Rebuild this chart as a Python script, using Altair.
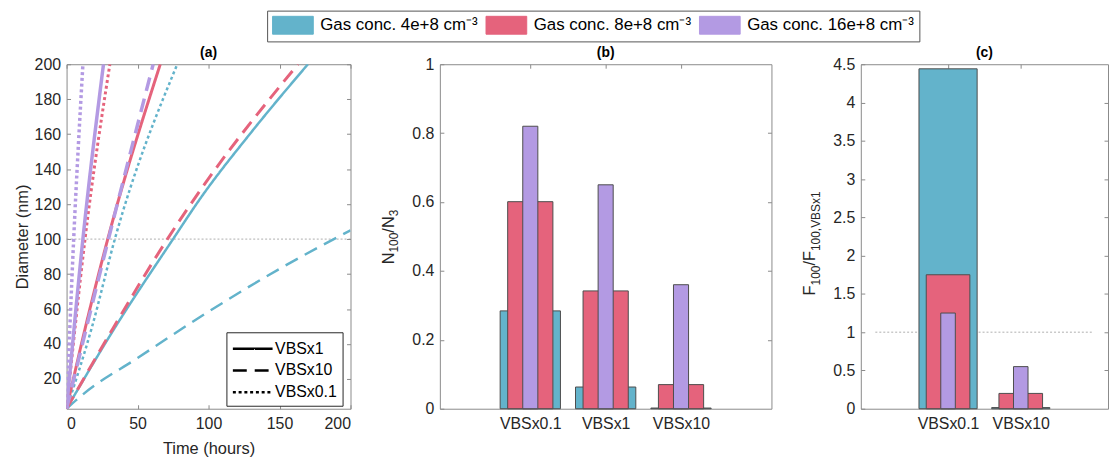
import altair as alt
import pandas as pd

FONT = "Liberation Sans"
TXT = "#262626"

# ---------------- shared categories / styles ----------------
conc_labels = ["Gas conc. 4e+8 cm⁻³", "Gas conc. 8e+8 cm⁻³", "Gas conc. 16e+8 cm⁻³"]
conc_colors = ["#63B3CB", "#E5637C", "#B39AE3"]
line_widths = [2.5, 3.5, 2.0]
vbs_labels = ["VBSx1", "VBSx10", "VBSx0.1"]
vbs_dash = [[1, 0], [14, 8], [3, 2.8]]

# ---------------- panel (a): diameter vs time ----------------
a_4e8_vbs1_t = [0, 33, 75, 94, 130, 170]
a_4e8_vbs1_d = [3, 48, 100, 123, 161, 200]
a_4e8_vbs10_t = [0, 12, 50, 99, 150, 200]
a_4e8_vbs10_d = [3, 11.5, 32, 58, 83, 105]
a_4e8_vbs01_t = [0, 18, 34, 78]
a_4e8_vbs01_d = [3, 50, 100, 200]
a_8e8_vbs1_t = [0, 14, 29, 66]
a_8e8_vbs1_d = [3, 52, 100, 200]
a_8e8_vbs10_t = [0, 32, 71, 96, 163]
a_8e8_vbs10_d = [3, 48, 100, 130, 200]
a_8e8_vbs01_t = [0, 13, 30.5]
a_8e8_vbs01_d = [3, 100, 200]
a_16e8_vbs1_t = [0, 11.5, 26]
a_16e8_vbs1_d = [3, 100, 200]
a_16e8_vbs10_t = [0, 29.5, 61]
a_16e8_vbs10_d = [3, 100, 200]
a_16e8_vbs01_t = [0, 5, 11.5]
a_16e8_vbs01_d = [3, 100, 200]

series_a = [
    (0, 0, a_4e8_vbs1_t, a_4e8_vbs1_d), (0, 1, a_4e8_vbs10_t, a_4e8_vbs10_d), (0, 2, a_4e8_vbs01_t, a_4e8_vbs01_d),
    (1, 0, a_8e8_vbs1_t, a_8e8_vbs1_d), (1, 1, a_8e8_vbs10_t, a_8e8_vbs10_d), (1, 2, a_8e8_vbs01_t, a_8e8_vbs01_d),
    (2, 0, a_16e8_vbs1_t, a_16e8_vbs1_d), (2, 1, a_16e8_vbs10_t, a_16e8_vbs10_d), (2, 2, a_16e8_vbs01_t, a_16e8_vbs01_d),
]
rows = []
for ci, vi, ts, ds in series_a:
    for t, d in zip(ts, ds):
        rows.append({"t": t, "d": d, "conc": conc_labels[ci], "vbs": vbs_labels[vi], "k": ci * 3 + vi})
df_a = pd.DataFrame(rows)

# ---------------- panel (b): N100/N3 ----------------
b_cats = ["VBSx0.1", "VBSx1", "VBSx10"]
b_4e8 = [0.284, 0.063, 0.002]
b_8e8 = [0.601, 0.342, 0.070]
b_16e8 = [0.820, 0.650, 0.360]

# ---------------- panel (c): F100/F100,VBSx1 ----------------
c_cats = ["VBSx0.1", "VBSx10"]
c_4e8 = [4.44, 0.015]
c_8e8 = [1.75, 0.20]
c_16e8 = [1.25, 0.55]

bar_widths = [0.8, 0.6, 0.2]


def bar_frame(cats, series):
    out = []
    for si, vals in enumerate(series):
        for i, v in enumerate(vals):
            pos = i + 1
            w = bar_widths[si]
            out.append({"cat": cats[i], "pos": pos, "x0": pos - w / 2, "x1": pos + w / 2,
                        "val": v, "base": 0, "conc": conc_labels[si], "ord": si})
    return pd.DataFrame(out)


df_b = bar_frame(b_cats, [b_4e8, b_8e8, b_16e8])
df_c = bar_frame(c_cats, [c_4e8, c_8e8, c_16e8])

TICK = 4


def ax_left(values, title=None, fmt="~g"):
    return alt.Axis(orient="left", values=values, title=title, format=fmt, domain=False, grid=False,
                    tickSize=TICK, offset=-TICK, labelPadding=6, titlePadding=4,
                    labelFontSize=16, titleFontSize=16.5)


def ax_bottom(values, title=None, label_expr=None):
    kw = dict(orient="bottom", values=values, title=title, domain=False, grid=False,
              tickSize=TICK, offset=-TICK, labelPadding=7, titlePadding=9,
              labelFontSize=16, titleFontSize=16.5, labelAngle=0, format="d")
    if label_expr:
        kw["labelExpr"] = label_expr
    return alt.Axis(**kw)


def mirror(df, xf, yf, xs, ys, xvals, yvals):
    return alt.Chart(df).mark_point(opacity=0).encode(
        x=alt.X(xf, scale=xs, axis=alt.Axis(orient="top", values=xvals, labels=False, title=None,
                                            domain=False, grid=False, tickSize=TICK, offset=-TICK)),
        y=alt.Y(yf, scale=ys, axis=alt.Axis(orient="right", values=yvals, labels=False, title=None,
                                            domain=False, grid=False, tickSize=TICK, offset=-TICK)),
    )


# Arial advance widths (per 1000 em) for building rich y titles
ADV = {"N": 722, "F": 611, "/": 278, ",": 278, "V": 667, "B": 667, "S": 667, "x": 500}
for ch in "0123456789":
    ADV[ch] = 556


def rich_title(segments, center_y, base_x, main=16.5, sub=12.0, shift=4.5):
    sizes = [(txt, main if kind == "m" else sub, 0 if kind == "m" else shift) for txt, kind in segments]
    total = sum(sum(ADV[c] for c in txt) / 1000 * fs for txt, fs, _ in sizes)
    y = center_y + total / 2
    layers = []
    one = pd.DataFrame({"k": [0]})
    for txt, fs, sh in sizes:
        layers.append(alt.Chart(one).mark_text(text=txt, fontSize=fs, angle=270, align="left",
                                               baseline="alphabetic", font=FONT, color=TXT)
                      .encode(x=alt.value(base_x + sh), y=alt.value(y)))
        y -= sum(ADV[c] for c in txt) / 1000 * fs
    return layers


def panel_title(s):
    return alt.TitleParams(s, fontSize=14, fontWeight="bold", offset=2, dy=6, font=FONT, color="black",
                           anchor="middle")


H = 347
WA, WB, WC = 286, 334, 249

color_scale = alt.Scale(domain=conc_labels, range=conc_colors)

top_legend = alt.Legend(orient="none", legendX=202, legendY=-54, direction="horizontal", title=None,
                        symbolType="M-2.278,-1H2.278V1H-2.278Z", symbolSize=324, symbolOffset=11.5,
                        symbolStrokeColor="#4d4d4d", symbolStrokeWidth=1, symbolOpacity=1,
                        labelFontSize=17, labelFont=FONT, labelColor="black", labelOffset=18,
                        strokeColor="#555555", fillColor="white", padding=5,
                        columnPadding=5, labelLimit=400)

# ---------------- chart (a) ----------------
xa = alt.Scale(domain=[0, 200], nice=False, zero=False)
ya = alt.Scale(domain=[3, 200], nice=False, zero=False)

ref_a = alt.Chart(pd.DataFrame({"y": [100]})).mark_rule(color="#9a9a9a", strokeDash=[2, 2], strokeWidth=0.8).encode(
    y=alt.Y("y:Q", scale=ya, axis=None))

dash_legend = alt.Legend(orient="none", legendX=161, legendY=270, title=None,
                         symbolType="M-2,0H2", symbolSize=400, symbolOffset=10, symbolStrokeWidth=2.5,
                         symbolStrokeColor="black", symbolFillColor="transparent",
                         labelFontSize=16, labelFont=FONT, labelColor="black", labelOffset=11,
                         strokeColor="#262626", fillColor="white", padding=5, rowPadding=2)

lines_a = alt.Chart(df_a).mark_line(clip=True, interpolate="monotone").encode(
    x=alt.X("t:Q", scale=xa, axis=ax_bottom([0, 50, 100, 150, 200], "Time (hours)")),
    y=alt.Y("d:Q", scale=ya, axis=ax_left(list(range(20, 201, 20)), "Diameter (nm)", fmt="d")),
    color=alt.Color("conc:N", scale=color_scale, legend=top_legend),
    strokeWidth=alt.StrokeWidth("conc:N", scale=alt.Scale(domain=conc_labels, range=line_widths), legend=None),
    strokeDash=alt.StrokeDash("vbs:N", scale=alt.Scale(domain=vbs_labels, range=vbs_dash), legend=dash_legend),
    detail="k:N",
)

chart_a = alt.layer(
    ref_a, lines_a,
    mirror(df_a, "t:Q", "d:Q", xa, ya, [0, 50, 100, 150, 200], list(range(20, 201, 20))),
).resolve_axis(x="independent", y="independent").properties(width=WA, height=H, title=panel_title("(a)"))

# ---------------- chart (b) ----------------
xb = alt.Scale(domain=[-0.2, 4.2], nice=False, zero=False)
yb = alt.Scale(domain=[0, 1], nice=False)
expr_b = "[" + ",".join("'%s'" % c for c in b_cats) + "][datum.value - 1]"

bars_b = alt.Chart(df_b).mark_bar(stroke="#4d4d4d", strokeWidth=1, opacity=1).encode(
    x=alt.X("x0:Q", scale=xb, axis=ax_bottom([1, 2, 3], None, expr_b)),
    x2="x1:Q",
    y=alt.Y("val:Q", scale=yb, axis=ax_left([0, 0.2, 0.4, 0.6, 0.8, 1])),
    y2="base:Q",
    color=alt.Color("conc:N", scale=color_scale, legend=top_legend),
    order=alt.Order("ord:Q"),
)

chart_b = alt.layer(
    bars_b,
    mirror(df_b, "pos:Q", "val:Q", xb, yb, [1, 2, 3], [0.2, 0.4, 0.6, 0.8]),
    *rich_title([("N", "m"), ("100", "s"), ("/N", "m"), ("3", "s")], 174, -46.5),
).resolve_axis(x="independent", y="independent").properties(width=WB, height=H, title=panel_title("(b)"))

# ---------------- chart (c) ----------------
xc = alt.Scale(domain=[-0.2, 3.2], nice=False, zero=False)
yc = alt.Scale(domain=[0, 4.5], nice=False)
expr_c = "[" + ",".join("'%s'" % c for c in c_cats) + "][datum.value - 1]"

ref_c = alt.Chart(pd.DataFrame({"a": [0], "b": [3], "y": [1]})).mark_rule(
    color="#9a9a9a", strokeDash=[2, 2], strokeWidth=0.8).encode(
    x=alt.X("a:Q", scale=xc, axis=None), x2="b:Q", y=alt.Y("y:Q", scale=yc, axis=None))

bars_c = alt.Chart(df_c).mark_bar(stroke="#4d4d4d", strokeWidth=1, opacity=1).encode(
    x=alt.X("x0:Q", scale=xc, axis=ax_bottom([1, 2], None, expr_c)),
    x2="x1:Q",
    y=alt.Y("val:Q", scale=yc, axis=ax_left([0, 0.5, 1, 1.5, 2, 2.5, 3, 3.5, 4, 4.5])),
    y2="base:Q",
    color=alt.Color("conc:N", scale=color_scale, legend=top_legend),
    order=alt.Order("ord:Q"),
)

chart_c = alt.layer(
    ref_c, bars_c,
    mirror(df_c, "pos:Q", "val:Q", xc, yc, [1, 2], [0.5, 1, 1.5, 2, 2.5, 3, 3.5, 4]),
    *rich_title([("F", "m"), ("100", "s"), ("/F", "m"), ("100,VBSx1", "s")], 180.5, -46),
).resolve_axis(x="independent", y="independent").properties(width=WC, height=H, title=panel_title("(c)"))

chart = alt.hconcat(chart_a, chart_b, chart_c, spacing=90, bounds="flush").resolve_scale(
    color="shared", strokeWidth="independent", strokeDash="independent"
).resolve_legend(color="shared", strokeDash="independent").configure_view(
    stroke="#8a8a8a", strokeWidth=1
).configure_axis(
    labelFont=FONT, titleFont=FONT, labelColor=TXT, titleColor=TXT, tickColor="#8a8a8a",
    titleFontWeight="normal"
).configure_legend(labelFont=FONT).properties(
    padding={"left": 5, "top": 0, "right": 0, "bottom": 0}
)

chart.save("out.html", embed_options={"renderer": "svg", "actions": False})
